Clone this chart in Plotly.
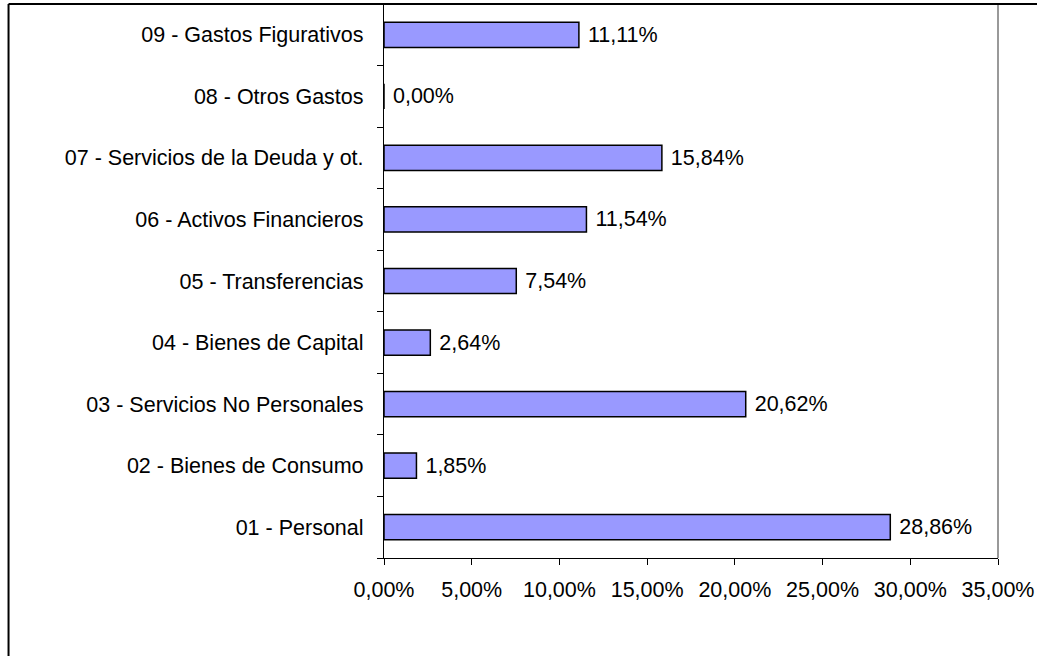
import plotly.graph_objects as go

categories = [
    "01 - Personal",
    "02 - Bienes de Consumo",
    "03 - Servicios No Personales",
    "04 - Bienes de Capital",
    "05 - Transferencias",
    "06 - Activos Financieros",
    "07 - Servicios de la Deuda y ot.",
    "08 - Otros Gastos",
    "09 - Gastos Figurativos",
]
values = [0.2886, 0.0185, 0.2062, 0.0264, 0.0754, 0.1154, 0.1584, 0.0000, 0.1111]
tick_vals = [0, 0.05, 0.10, 0.15, 0.20, 0.25, 0.30, 0.35]

FONT = "Liberation Sans, Arial, sans-serif"
FS = 21.5

fig = go.Figure(
    go.Bar(
        x=values,
        y=categories,
        orientation="h",
        marker=dict(color="#9999FF", line=dict(color="#000000", width=1.5)),
        texttemplate="\u00a0%{x:.2%}",
        textposition="outside",
        textfont=dict(family=FONT, size=FS, color="#000000"),
        cliponaxis=False,
        width=0.41,
    )
)

fig.update_layout(
    width=1037,
    height=656,
    separators=",.",
    paper_bgcolor="#FFFFFF",
    plot_bgcolor="#FFFFFF",
    margin=dict(l=384, r=39, t=4, b=98),
    showlegend=False,
    font=dict(family=FONT, size=FS, color="#000000"),
    xaxis=dict(
        range=[0, 0.35],
        tickvals=tick_vals,
        tickformat=".2%",
        ticks="outside",
        ticklen=6,
        tickcolor="#000000",
        showline=True,
        linecolor="#000000",
        linewidth=1.3,
        showgrid=False,
        zeroline=False,
        ticklabelstandoff=6,
        tickfont=dict(family=FONT, size=FS),
    ),
    yaxis=dict(
        type="category",
        categoryorder="array",
        categoryarray=categories,
        ticks="outside",
        tickson="boundaries",
        ticklen=6,
        tickcolor="#000000",
        showline=True,
        linecolor="#000000",
        linewidth=1.3,
        showgrid=False,
        zeroline=False,
        ticklabelstandoff=15,
        tickfont=dict(family=FONT, size=FS),
    ),
    shapes=[
        dict(type="line", xref="paper", yref="paper", x0=1, x1=1, y0=0, y1=1,
             line=dict(color="#999999", width=2)),
        dict(type="line", xref="paper", yref="paper", x0=0, x1=1, y0=1, y1=1,
             line=dict(color="#999999", width=2)),
        dict(type="line", xref="paper", yref="paper", x0=-0.6115, x1=-0.6115, y0=-0.3, y1=1,
             line=dict(color="#000000", width=2)),
        dict(type="line", xref="paper", yref="paper", x0=-0.6115, x1=1.1, y0=1, y1=1,
             line=dict(color="#000000", width=2)),
    ],
)

fig.write_html("out.html")
